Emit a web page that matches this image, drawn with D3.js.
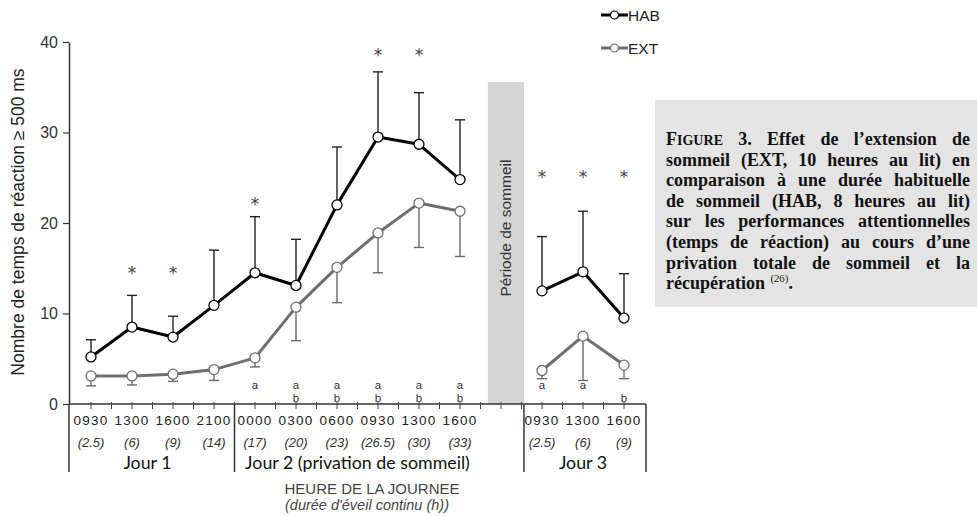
<!DOCTYPE html>
<html><head><meta charset="utf-8">
<script src="https://cdn.jsdelivr.net/npm/d3@7"></script>
<style>
html,body{margin:0;padding:0;background:#fff;}
svg{display:block;}
</style></head>
<body>
<svg id="chart" width="977" height="516"></svg>
<script>
// ---- DATA ----
const slots = ["J1-0930","J1-1300","J1-1600","J1-2100","J2-0000","J2-0300","J2-0600","J2-0930","J2-1300","J2-1600","SLEEP","J3-0930","J3-1300","J3-1600"];
const categories = ["J1-0930","J1-1300","J1-1600","J1-2100","J2-0000","J2-0300","J2-0600","J2-0930","J2-1300","J2-1600","J3-0930","J3-1300","J3-1600"];
const timeLabels = ["0930","1300","1600","2100","0000","0300","0600","0930","1300","1600","0930","1300","1600"];
const durationLabels = ["(2.5)","(6)","(9)","(14)","(17)","(20)","(23)","(26.5)","(30)","(33)","(2.5)","(6)","(9)"];
const habValues = [5.2, 8.5, 7.4, 10.9, 14.5, 13.1, 22.0, 29.5, 28.7, 24.8, 12.5, 14.6, 9.5];
const habErrTop = [7.1, 12.0, 9.7, 17.0, 20.7, 18.2, 28.4, 36.7, 34.4, 31.4, 18.5, 21.3, 14.4];
const extValues = [3.1, 3.1, 3.3, 3.8, 5.1, 10.7, 15.1, 18.9, 22.2, 21.3, 3.7, 7.5, 4.3];
const extErrBottom = [2.0, 2.1, 2.5, 2.6, 4.1, 7.0, 11.2, 14.5, 17.3, 16.3, 2.8, 2.6, 2.8];
const asterisks = ["J1-1300","J1-1600","J2-0000","J2-0930","J2-1300","J3-0930","J3-1300","J3-1600"];
const asteriskY = [14.7, 14.7, 22.3, 38.8, 38.8, 25.3, 25.3, 25.3];
const letterA = ["J2-0000","J2-0300","J2-0600","J2-0930","J2-1300","J2-1600","J3-0930","J3-1300"];
const letterB = ["J2-0300","J2-0600","J2-0930","J2-1300","J2-1600","J3-1600"];
const days = [
  {label:"Jour 1", from:"J1-0930", to:"J1-2100"},
  {label:"Jour 2 (privation de sommeil)", from:"J2-0000", to:"J2-1600"},
  {label:"Jour 3", from:"J3-0930", to:"J3-1600"}
];
const yTicks = [0, 10, 20, 30, 40];
const seriesNames = ["HAB","EXT"];
const captionLines = [
  "FIGURE 3. Effet de l’extension de",
  "sommeil (EXT, 10 heures au lit) en",
  "comparaison à une durée habituelle",
  "de sommeil (HAB, 8 heures au lit)",
  "sur les performances attentionnelles",
  "(temps de réaction) au cours d’une",
  "privation totale de sommeil et la",
  "récupération (26)."
];

// ---- LAYOUT ----
const svg = d3.select("#chart");
const axisFont = "Liberation Sans, Arial, sans-serif";
const x = d3.scalePoint().domain(slots).range([91, 624]);
const step = x.step();
const y = d3.scaleLinear().domain([0, 40]).range([404, 42]);
const xLeft = 69, xRight = 646;
const bottomY = 472;

// sleep band
svg.append("rect")
  .attr("x", x("SLEEP") - 0.32*step).attr("y", 82)
  .attr("width", 0.88*step).attr("height", y(0) - 82)
  .attr("fill", "#d5d5d5");
svg.append("text")
  .attr("transform", `translate(${x("SLEEP") + 0.12*step + 5},228) rotate(-90)`)
  .attr("text-anchor","middle")
  .attr("font-family", axisFont).attr("font-size", 15.5).attr("fill","#333")
  .text("Période de sommeil");

// y axis
const yAxis = d3.axisLeft(y).tickValues(yTicks).tickSize(6).tickSizeOuter(0);
const gy = svg.append("g").attr("transform", `translate(${xLeft},0)`).call(yAxis);
gy.select(".domain").attr("stroke","#333").attr("stroke-width",1.5);
gy.selectAll(".tick line").attr("stroke","#333").attr("stroke-width",1.2);
gy.selectAll(".tick text").attr("font-family",axisFont).attr("font-size",16).attr("fill","#333").attr("x",-11);

// y axis title
svg.append("text")
  .attr("transform","translate(24,222) rotate(-90)")
  .attr("text-anchor","middle")
  .attr("font-family",axisFont).attr("font-size",17.5).attr("fill","#222")
  .text("Nombre de temps de réaction ≥ 500 ms");

// x axis line
svg.append("line").attr("x1",xLeft).attr("x2",xRight).attr("y1",y(0)).attr("y2",y(0))
  .attr("stroke","#333").attr("stroke-width",1.5);
// half-step ticks
const halfTicks = d3.range(0, 27).map(i => x(slots[0]) + i*step/2);
svg.append("g").selectAll("line").data(halfTicks).join("line")
  .attr("x1",d=>d).attr("x2",d=>d).attr("y1",y(0)-2).attr("y2",y(0)+5)
  .attr("stroke","#444").attr("stroke-width",1);

// vertical separators
const seps = [xLeft, (x("J1-2100")+x("J2-0000"))/2, x("SLEEP")+0.56*step, xRight];
svg.append("g").selectAll("line").data(seps).join("line")
  .attr("x1",d=>d).attr("x2",d=>d).attr("y1",y(0)).attr("y2",bottomY)
  .attr("stroke","#333").attr("stroke-width",1.5);

// time labels
svg.append("g").selectAll("text").data(categories).join("text")
  .attr("x",d=>x(d)).attr("y",425).attr("text-anchor","middle")
  .attr("font-family",axisFont).attr("font-size",13.5).attr("letter-spacing",1.2).attr("fill","#222")
  .text((d,i)=>timeLabels[i]);
svg.append("g").selectAll("text").data(categories).join("text")
  .attr("x",d=>x(d)).attr("y",447).attr("text-anchor","middle")
  .attr("font-family",axisFont).attr("font-size",13).attr("font-style","italic").attr("fill","#333")
  .text((d,i)=>durationLabels[i]);

// day labels
svg.append("g").selectAll("text").data(days).join("text")
  .attr("x",d=>(x(d.from)+x(d.to))/2 - (d.label==="Jour 1"?5:0)).attr("y",469).attr("text-anchor","middle")
  .attr("font-family","Lato, sans-serif").attr("font-size",17.8).attr("fill","#111")
  .text(d=>d.label);

// x title
svg.append("text").attr("x",372).attr("y",494).attr("text-anchor","middle")
  .attr("font-family",axisFont).attr("font-size",15).attr("fill","#444")
  .text("HEURE DE LA JOURNEE");
svg.append("text").attr("x",367).attr("y",510).attr("text-anchor","middle")
  .attr("font-family",axisFont).attr("font-size",14.5).attr("font-style","italic").attr("fill","#444")
  .text("(durée d'éveil continu (h))");

// data points
const habPts = categories.map((c,i)=>({c, v:habValues[i], e:habErrTop[i], day:c.slice(0,2)}));
const extPts = categories.map((c,i)=>({c, v:extValues[i], e:extErrBottom[i], day:c.slice(0,2)}));
const segA = p => p.filter(d=>d.day!=="J3");
const segB = p => p.filter(d=>d.day==="J3");
const line = d3.line().x(d=>x(d.c)).y(d=>y(d.v));

// error bars
function errBars(pts, color){
  const g = svg.append("g");
  g.selectAll("line.v").data(pts).join("line").attr("class","v")
    .attr("x1",d=>x(d.c)).attr("x2",d=>x(d.c)).attr("y1",d=>y(d.v)).attr("y2",d=>y(d.e))
    .attr("stroke",color).attr("stroke-width",1.4);
  g.selectAll("line.h").data(pts).join("line").attr("class","h")
    .attr("x1",d=>x(d.c)-5).attr("x2",d=>x(d.c)+5).attr("y1",d=>y(d.e)).attr("y2",d=>y(d.e))
    .attr("stroke",color).attr("stroke-width",1.4);
}
errBars(extPts, "#6a6a6a");
errBars(habPts, "#222");

function series(pts, color){
  [segA(pts), segB(pts)].forEach(s=>{
    svg.append("path").datum(s).attr("d",line).attr("fill","none")
      .attr("stroke",color).attr("stroke-width",3).attr("stroke-linejoin","round");
  });
  svg.append("g").selectAll("circle").data(pts).join("circle")
    .attr("cx",d=>x(d.c)).attr("cy",d=>y(d.v)).attr("r",5)
    .attr("fill","#fff").attr("stroke",color).attr("stroke-width",1.3);
}
series(extPts, "#6e6e6e");
series(habPts, "#000");

// asterisks
svg.append("g").selectAll("text").data(asterisks).join("text")
  .attr("x",d=>x(d)).attr("y",(d,i)=>y(asteriskY[i])+8).attr("text-anchor","middle")
  .attr("font-family","DejaVu Sans, sans-serif").attr("font-size",17).attr("fill","#444")
  .text("*");

// letters
svg.append("g").selectAll("text").data(letterA).join("text")
  .attr("x",d=>x(d)).attr("y",389).attr("text-anchor","middle")
  .attr("font-family",axisFont).attr("font-size",11.5).attr("fill","#333").text("a");
svg.append("g").selectAll("text").data(letterB).join("text")
  .attr("x",d=>x(d)).attr("y",402).attr("text-anchor","middle")
  .attr("font-family",axisFont).attr("font-size",11.5).attr("fill","#333").text("b");

// legend
const legColors = ["#000","#6e6e6e"];
const leg = svg.append("g").selectAll("g").data(seriesNames).join("g")
  .attr("transform",(d,i)=>`translate(601,${15+i*33})`);
leg.append("line").attr("x1",0).attr("x2",27).attr("stroke",(d,i)=>legColors[i]).attr("stroke-width",3);
leg.append("circle").attr("cx",13.5).attr("r",4).attr("fill","#fff").attr("stroke",(d,i)=>legColors[i]).attr("stroke-width",1.2);
leg.append("text").attr("x",27).attr("y",5.5).attr("font-family",axisFont).attr("font-size",15.5).attr("fill","#222").text(d=>d);

// caption box
svg.append("rect").attr("x",655).attr("y",100).attr("width",322).attr("height",207).attr("fill","#e4e4e4");
const capFont = "Liberation Serif, serif";
const capSize = 18;
const capLeft = 666, capRight = 970;
const capG = svg.append("g").attr("font-family",capFont).attr("font-size",capSize).attr("font-weight","bold").attr("fill","#111");
captionLines.forEach((ln, li)=>{
  const yy = 145 + li*20.6;
  const words = ln.split(" ");
  const nodes = words.map((w, wi)=>{
    const t = capG.append("text").attr("y",yy);
    if (li===0 && wi===0){
      t.append("tspan").text("F");
      t.append("tspan").attr("font-size",capSize*0.78).text("IGURE");
    } else if (li===captionLines.length-1 && w==="(26).") {
      t.append("tspan").attr("font-size",capSize*0.6).attr("dy",-7).attr("font-weight","normal").text("(26)");
      t.append("tspan").attr("dy",7).text(".");
    } else {
      t.text(w);
    }
    return t;
  });
  let widths = nodes.map(n=>n.node().getBBox().width);
  let total = d3.sum(widths);
  const last = li===captionLines.length-1;
  const avail = capRight-capLeft;
  if (!last && total + (words.length-1)*3 > avail) {
    const k = (avail - (words.length-1)*3)/total;
    nodes.forEach((n,i)=>{ n.attr("textLength", widths[i]*k).attr("lengthAdjust","spacingAndGlyphs"); widths[i]*=k; });
    total = d3.sum(widths);
  }
  const gap = last ? capSize*0.3 : (avail-total)/(words.length-1);
  let cx = capLeft;
  nodes.forEach((n,i)=>{ n.attr("x",cx); cx += widths[i] + gap; });
});
</script>
</body></html>
